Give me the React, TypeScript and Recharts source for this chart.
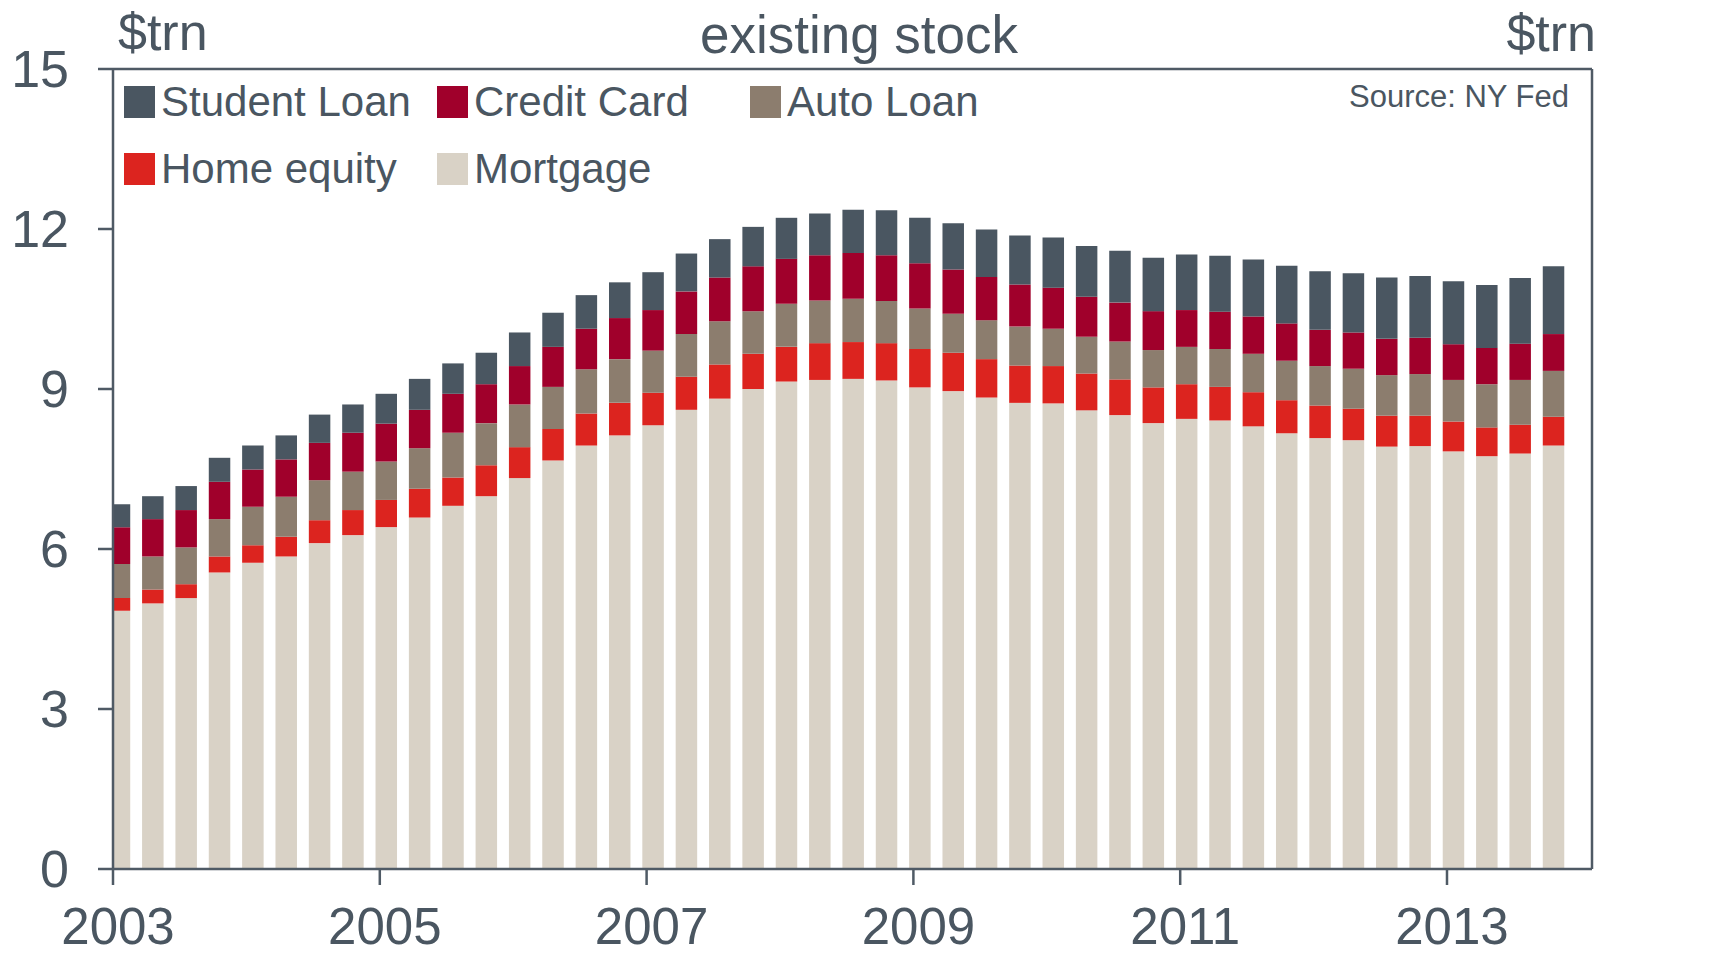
import { Bar, BarChart, Legend, ReferenceLine, XAxis, YAxis } from 'recharts'

const quarters = [
  '2003Q1', '2003Q2', '2003Q3', '2003Q4', '2004Q1', '2004Q2', '2004Q3', '2004Q4',
  '2005Q1', '2005Q2', '2005Q3', '2005Q4', '2006Q1', '2006Q2', '2006Q3', '2006Q4',
  '2007Q1', '2007Q2', '2007Q3', '2007Q4', '2008Q1', '2008Q2', '2008Q3', '2008Q4',
  '2009Q1', '2009Q2', '2009Q3', '2009Q4', '2010Q1', '2010Q2', '2010Q3', '2010Q4',
  '2011Q1', '2011Q2', '2011Q3', '2011Q4', '2012Q1', '2012Q2', '2012Q3', '2012Q4',
  '2013Q1', '2013Q2', '2013Q3', '2013Q4'
]

// $trn
const mortgage = [
  4.84, 4.98, 5.08, 5.56, 5.74, 5.86, 6.11, 6.26, 6.41, 6.59, 6.81, 6.99,
  7.33, 7.66, 7.94, 8.13, 8.32, 8.61, 8.82, 9.0, 9.14, 9.17, 9.19, 9.16,
  9.03, 8.96, 8.84, 8.74, 8.73, 8.6, 8.51, 8.36, 8.44, 8.41, 8.3, 8.17,
  8.08, 8.04, 7.92, 7.93, 7.83, 7.74, 7.79, 7.94
]
const homeEquity = [
  0.24, 0.26, 0.26, 0.3, 0.33, 0.37, 0.43, 0.47, 0.51, 0.54, 0.53, 0.58,
  0.58, 0.59, 0.6, 0.61, 0.61, 0.62, 0.64, 0.66, 0.65, 0.69, 0.69, 0.7,
  0.72, 0.72, 0.72, 0.7, 0.7, 0.69, 0.67, 0.67, 0.65, 0.63, 0.64, 0.62,
  0.61, 0.59, 0.58, 0.57, 0.56, 0.54, 0.54, 0.54
]
const autoLoan = [
  0.64, 0.62, 0.69, 0.7, 0.72, 0.75, 0.75, 0.72, 0.72, 0.76, 0.84, 0.79,
  0.8, 0.79, 0.83, 0.82, 0.79, 0.8, 0.81, 0.8, 0.81, 0.8, 0.81, 0.79,
  0.76, 0.73, 0.73, 0.73, 0.7, 0.69, 0.71, 0.7, 0.7, 0.71, 0.72, 0.74,
  0.74, 0.75, 0.76, 0.78, 0.78, 0.81, 0.84, 0.86
]
const creditCard = [
  0.69, 0.7, 0.7, 0.7, 0.7, 0.7, 0.7, 0.73, 0.71, 0.72, 0.73, 0.73,
  0.72, 0.75, 0.76, 0.77, 0.76, 0.8, 0.82, 0.84, 0.84, 0.85, 0.86, 0.86,
  0.85, 0.83, 0.81, 0.79, 0.77, 0.75, 0.73, 0.73, 0.69, 0.7, 0.7, 0.7,
  0.68, 0.68, 0.68, 0.68, 0.67, 0.68, 0.68, 0.69
]
const studentLoan = [
  0.43, 0.43, 0.45, 0.45, 0.45, 0.45, 0.53, 0.53, 0.56, 0.58, 0.57, 0.59,
  0.63, 0.64, 0.63, 0.67, 0.71, 0.71, 0.72, 0.74, 0.77, 0.78, 0.81, 0.84,
  0.85, 0.87, 0.89, 0.92, 0.94, 0.95, 0.97, 1.0, 1.04, 1.05, 1.07, 1.08,
  1.1, 1.11, 1.15, 1.16, 1.18, 1.18, 1.23, 1.27
]

const yearTicks = [2003, 2005, 2007, 2009, 2011, 2013]
const valueTicks = [0, 3, 6, 9, 12, 15]

const TEXT = '#4a5661'
const AXIS = '#4f5a65'
const FONT = '"Liberation Sans", Arial, Helvetica, sans-serif'

const series = [
  { key: 'mortgage', name: 'Mortgage', color: '#d9d2c6' },
  { key: 'homeEquity', name: 'Home equity', color: '#dc241f' },
  { key: 'autoLoan', name: 'Auto Loan', color: '#8c7d6e' },
  { key: 'creditCard', name: 'Credit Card', color: '#a0002b' },
  { key: 'studentLoan', name: 'Student Loan', color: '#4a5661' }
]

// quarter label -> position on the time axis (bars sit just after the quarter start)
const toTime = (q: string) => Number(q.slice(0, 4)) + (Number(q.slice(5)) - 1) / 4 + 0.048

const data = quarters.map((q, i) => ({
  t: toTime(q),
  mortgage: mortgage[i],
  homeEquity: homeEquity[i],
  autoLoan: autoLoan[i],
  creditCard: creditCard[i],
  studentLoan: studentLoan[i]
}))

const legendSpots: Record<string, [number, number]> = {
  'Student Loan': [124, 86],
  'Credit Card': [437, 86],
  'Auto Loan': [750, 86],
  'Home equity': [124, 153],
  'Mortgage': [437, 153]
}

function LegendBox({ payload }: any) {
  return (
    <svg width={1715} height={200} style={{ display: 'block' }}>
      {(payload || []).map((entry: any) => {
        const spot = legendSpots[entry.value]
        if (!spot) return null
        return (
          <g key={entry.value}>
            <rect x={spot[0]} y={spot[1]} width={31} height={32} fill={entry.color} />
            <text x={spot[0] + 37} y={spot[1] + 30} fontSize={42} fontFamily={FONT} fill={TEXT}>
              {entry.value}
            </text>
          </g>
        )
      })}
    </svg>
  )
}

const LeftTick = ({ x, y, payload }: any) => (
  <text x={x} y={y + 18} textAnchor='end' fontSize={52} fontFamily={FONT} fill={TEXT}>
    {payload.value}
  </text>
)

const RightTick = ({ x, y, payload }: any) => (
  <text x={x} y={y + 18} textAnchor='start' fontSize={52} fontFamily={FONT} fill={TEXT}>
    {payload.value}
  </text>
)

const YearTick = ({ x, payload }: any) => (
  <text x={x + 5} y={944} textAnchor='middle' fontSize={51} fontFamily={FONT} fill={TEXT}>
    {payload.value}
  </text>
)

export default function App() {
  return (
    <div style={{ position: 'absolute', left: 0, top: 0, width: 1715, height: 956, background: '#fff' }}>
      <BarChart
        width={1715}
        height={956}
        data={data}
        margin={{ top: 69, right: 63, bottom: 47, left: 53 }}
        barSize={21.5}
      >
        <XAxis
          dataKey='t'
          type='number'
          domain={[2003, 2014.087]}
          allowDataOverflow
          ticks={yearTicks}
          height={40}
          tickSize={16}
          tick={<YearTick />}
          axisLine={{ stroke: AXIS, strokeWidth: 2.5 }}
          tickLine={{ stroke: AXIS, strokeWidth: 2.5 }}
        />
        <YAxis
          yAxisId='left'
          domain={[0, 15]}
          ticks={valueTicks}
          width={60}
          tickSize={15}
          tickMargin={29}
          tick={<LeftTick />}
          axisLine={{ stroke: AXIS, strokeWidth: 2.5 }}
          tickLine={{ stroke: AXIS, strokeWidth: 2.5 }}
        />
        <YAxis
          yAxisId='right'
          orientation='right'
          domain={[0, 15]}
          ticks={valueTicks}
          width={60}
          tickSize={15}
          tickMargin={31}
          tick={<RightTick />}
          axisLine={{ stroke: AXIS, strokeWidth: 2.5 }}
          tickLine={{ stroke: AXIS, strokeWidth: 2.5 }}
        />
        <ReferenceLine yAxisId='left' y={15} stroke={AXIS} strokeWidth={2.5} />
        <Legend
          verticalAlign='middle'
          align='center'
          layout='horizontal'
          wrapperStyle={{ left: 0, top: 0, width: 1715, height: 200 }}
          content={<LegendBox />}
        />
        {series.map(s => (
          <Bar
            key={s.key}
            dataKey={s.key}
            name={s.name}
            stackId='debt'
            yAxisId='left'
            fill={s.color}
            isAnimationActive={false}
          />
        ))}
      </BarChart>
      <svg
        width={1715}
        height={130}
        style={{ position: 'absolute', left: 0, top: 0, pointerEvents: 'none' }}
      >
        <text x={118} y={50} fontSize={52} fontFamily={FONT} fill={TEXT}>$trn</text>
        <text x={1596} y={51} textAnchor='end' fontSize={52} fontFamily={FONT} fill={TEXT}>$trn</text>
        <text x={859} y={53} textAnchor='middle' fontSize={53} fontFamily={FONT} fill={TEXT}>existing stock</text>
        <text x={1569} y={107} textAnchor='end' fontSize={31} fontFamily={FONT} fill={TEXT}>Source: NY Fed</text>
      </svg>
    </div>
  )
}
